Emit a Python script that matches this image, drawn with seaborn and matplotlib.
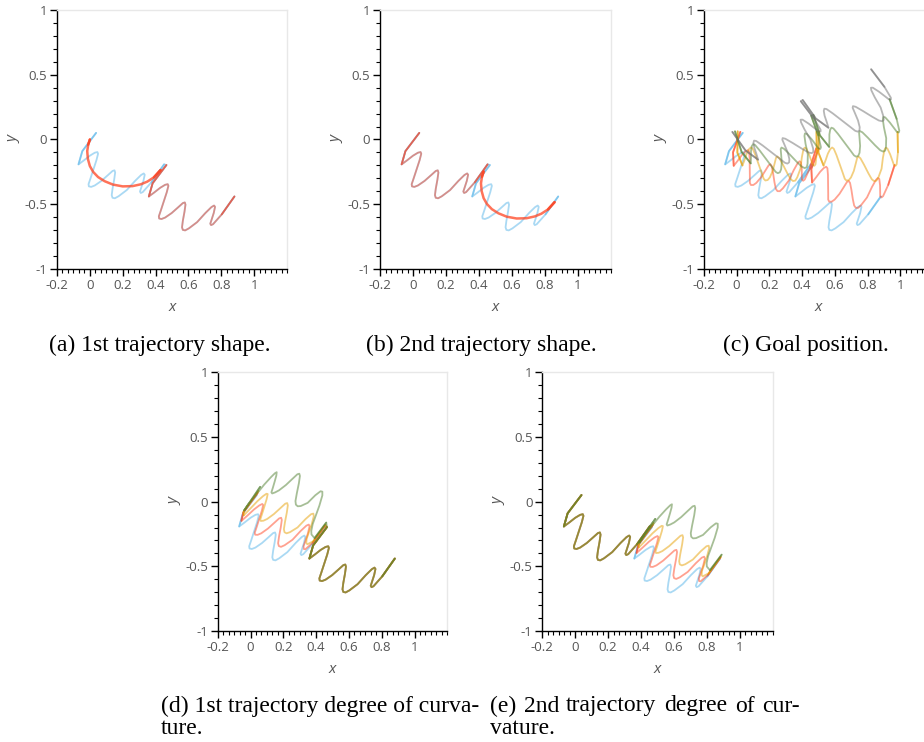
import numpy as np
import matplotlib
matplotlib.use("Agg")
import matplotlib.pyplot as plt
from matplotlib.ticker import FixedLocator, MultipleLocator, FuncFormatter
import seaborn as sns

# ---------------------------------------------------------------
# values (data units)
# ---------------------------------------------------------------
# 1st trajectory with the zig-zag shape (panel a, blue)
zig_x = [0.038, -0.046, -0.069, -0.035, 0.000, 0.030, 0.046, 0.050, 0.040,
         0.022, 0.004, -0.008, -0.006, 0.008, 0.030, 0.070, 0.110, 0.138,
         0.150, 0.154, 0.148, 0.138, 0.133, 0.138, 0.152, 0.175, 0.225,
         0.275, 0.312, 0.328, 0.334, 0.326, 0.312, 0.305, 0.310, 0.322,
         0.375, 0.452]
zig_y = [0.051, -0.090, -0.192, -0.160, -0.125, -0.102, -0.097, -0.110, -0.160,
         -0.230, -0.300, -0.345, -0.362, -0.366, -0.355, -0.320, -0.275, -0.243,
         -0.238, -0.255, -0.310, -0.380, -0.430, -0.450, -0.454, -0.438, -0.390,
         -0.320, -0.274, -0.262, -0.272, -0.320, -0.375, -0.402, -0.413, -0.406,
         -0.330, -0.192]

# 1st trajectory with the plain curved shape (panel a, red)
arc_x = [0.000, -0.010, -0.016, -0.012, 0.000, 0.020, 0.050, 0.090, 0.140,
         0.200, 0.260, 0.310, 0.350, 0.390, 0.430]
arc_y = [0.000, -0.040, -0.090, -0.150, -0.205, -0.250, -0.290, -0.322, -0.348,
         -0.362, -0.360, -0.346, -0.325, -0.292, -0.236]

# displacement of the 2nd trajectory with respect to the 1st one
second_dx, second_dy = 0.428, -0.248

# panel c: goal rotated around the start point (degrees)
goal_angles = [0, 15, 30, 45, 60]
goal_colors = ["#56B4E9", "#FF4422", "#E69F00", "#4F7F2F", "#6E6E6E"]

# panels d, e: degree of curvature relative to the demonstrated shape
curvatures = [1.0, 0.5, 0.0, -1.0]
curv_colors = ["#56B4E9", "#FF4422", "#E69F00", "#4F7F2F"]
bow_dir_deg = -108          # direction in which the curved part bulges

shape_colors = ["#56B4E9", "#FF4422"]   # panels a, b

captions_top = ["(a) 1st trajectory shape.", "(b) 2nd trajectory shape.",
                "(c) Goal position."]

ALPHA = 0.5
ARC_ALPHA = 0.75
W, H = 924, 742

sns.set_theme(style="white")
plt.rcParams["font.family"] = ["Open Sans", "DejaVu Sans"]
plt.rcParams["axes.unicode_minus"] = False

zx, zy = np.array(zig_x), np.array(zig_y)
ax_arc, ay_arc = np.array(arc_x), np.array(arc_y)


def bow_values():
    """bulge of the curved shape at every zig-zag way point"""
    cx, cy = ax_arc[-1] - ax_arc[0], ay_arc[-1] - ay_arc[0]
    l2 = cx * cx + cy * cy
    f_arc = ((ax_arc - ax_arc[0]) * cx + (ay_arc - ay_arc[0]) * cy) / l2
    f_arc = np.maximum.accumulate(f_arc)
    perp = np.abs((ax_arc - ax_arc[0]) * cy - (ay_arc - ay_arc[0]) * cx) / np.sqrt(l2)
    f_zig = ((zx - ax_arc[0]) * cx + (zy - ay_arc[0]) * cy) / l2
    return np.interp(np.clip(f_zig, 0, 1), f_arc, perp)


bow = bow_values()
bdx, bdy = np.cos(np.radians(bow_dir_deg)), np.sin(np.radians(bow_dir_deg))


def zig_curved(k):
    return zx + (k - 1) * bow * bdx, zy + (k - 1) * bow * bdy


def shifted(xs, ys):
    return np.asarray(xs) + second_dx, np.asarray(ys) + second_dy


def rotated(xs, ys, deg):
    t = np.radians(deg)
    xs, ys = np.asarray(xs), np.asarray(ys)
    return xs * np.cos(t) - ys * np.sin(t), xs * np.sin(t) + ys * np.cos(t)


def draw_traj(ax, parts, color, lw=1.3, alpha=ALPHA):
    """parts: list of (xs, ys, n_head) drawn as one continuous line"""
    xs = np.concatenate([p[0] for p in parts])
    ys = np.concatenate([p[1] for p in parts])
    sns.lineplot(x=xs, y=ys, sort=False, estimator=None, color=color,
                 alpha=alpha, linewidth=lw, ax=ax)
    # slow start / end of each movement -> denser, darker strokes
    for px, py, nh in parts:
        ax.plot(px[:nh], py[:nh], color=color, alpha=alpha, lw=lw,
                solid_capstyle="round")
        ax.plot(px[-2:], py[-2:], color=color, alpha=alpha, lw=lw,
                solid_capstyle="round")


def style_axes(ax):
    ax.set_xlim(-0.2, 1.2)
    ax.set_ylim(-1, 1)
    ax.xaxis.set_major_locator(FixedLocator([-0.2, 0, 0.2, 0.4, 0.6, 0.8, 1.0]))
    ax.xaxis.set_minor_locator(MultipleLocator(0.2 / 6))
    ax.yaxis.set_major_locator(MultipleLocator(0.5))
    ax.yaxis.set_minor_locator(MultipleLocator(0.1))
    fmt = FuncFormatter(lambda v, p: f"{v:g}")
    ax.xaxis.set_major_formatter(fmt)
    ax.yaxis.set_major_formatter(fmt)
    for s in ["top", "right"]:
        ax.spines[s].set_color("#e8e8e8")
        ax.spines[s].set_linewidth(1.0)
    for s in ["left", "bottom"]:
        ax.spines[s].set_color("black")
        ax.spines[s].set_linewidth(1.0)
    ax.tick_params(which="major", direction="out", length=5, width=1,
                   color="black", labelsize=9.5, labelcolor="#555555",
                   bottom=True, left=True, pad=2)
    ax.tick_params(which="minor", direction="out", length=3, width=0.8,
                   color="black", bottom=True, left=True)
    ax.set_xlabel("x", style="italic", color="#555555", fontsize=11)
    ax.set_ylabel("y", style="italic", color="#555555", fontsize=11)
    ax.xaxis.set_label_coords(0.5, -0.12)
    ax.yaxis.set_label_coords(-0.155, 0.5)
    ax.grid(False)


fig = plt.figure(figsize=(W / 100, H / 100), dpi=100)


def px_axes(left, right, top, bottom):
    return fig.add_axes([left / W, 1 - bottom / H, (right - left) / W, (bottom - top) / H])


ax_a = px_axes(57, 287, 10, 269)
ax_b = px_axes(380, 611, 10, 269)
ax_c = px_axes(703.7, 933.3, 10, 269)
ax_d = px_axes(217.7, 447.3, 372.3, 631)
ax_e = px_axes(542.3, 772.7, 372.3, 631)

zig2 = shifted(zx, zy)
arc2 = shifted(ax_arc, ay_arc)

# (a) 1st trajectory shape
draw_traj(ax_a, [(zx, zy, 3), (*zig2, 3)], shape_colors[0])
draw_traj(ax_a, [(ax_arc, ay_arc, 2)], shape_colors[1], lw=1.8, alpha=ARC_ALPHA)
draw_traj(ax_a, [(*zig2, 3)], shape_colors[1])

# (b) 2nd trajectory shape
draw_traj(ax_b, [(zx, zy, 3), (*zig2, 3)], shape_colors[0])
draw_traj(ax_b, [(zx, zy, 3)], shape_colors[1])
draw_traj(ax_b, [(*arc2, 2)], shape_colors[1], lw=1.8, alpha=ARC_ALPHA)

# (c) goal position
for ang, col in zip(goal_angles, goal_colors):
    p1 = rotated(zx, zy, ang)
    p2 = rotated(*zig2, ang)
    draw_traj(ax_c, [(*p1, 3), (*p2, 3)], col)

# (d) 1st trajectory degree of curvature
for k, col in zip(curvatures, curv_colors):
    draw_traj(ax_d, [(*zig_curved(k), 3), (*zig2, 3)], col)

# (e) 2nd trajectory degree of curvature
for k, col in zip(curvatures, curv_colors):
    draw_traj(ax_e, [(zx, zy, 3), (*shifted(*zig_curved(k)), 3)], col)

for ax in [ax_a, ax_b, ax_c, ax_d, ax_e]:
    style_axes(ax)

# captions
cap_kw = dict(family=["Liberation Serif", "DejaVu Serif"], fontsize=17,
              color="black", va="center")
for txt, cx in zip(captions_top, [160, 481, 806]):
    fig.text(cx / W, 1 - 345 / H, txt, ha="center", **cap_kw)

fig.text(161 / W, 1 - 706 / H, "(d) 1st trajectory degree of curva-", ha="left", **cap_kw)
fig.text(161 / W, 1 - 729 / H, "ture.", ha="left", **cap_kw)
# justified first line of caption (e)
e_words = ["(e)", "2nd", "trajectory", "degree", "of", "cur-"]
e_left = [490, 524, 566, 664, 735, 762]
for w, x0 in zip(e_words, e_left):
    fig.text(x0 / W, 1 - 706 / H, w, ha="left", **cap_kw)
fig.text(490 / W, 1 - 729 / H, "vature.", ha="left", **cap_kw)

fig.savefig("out.png", dpi=100)
